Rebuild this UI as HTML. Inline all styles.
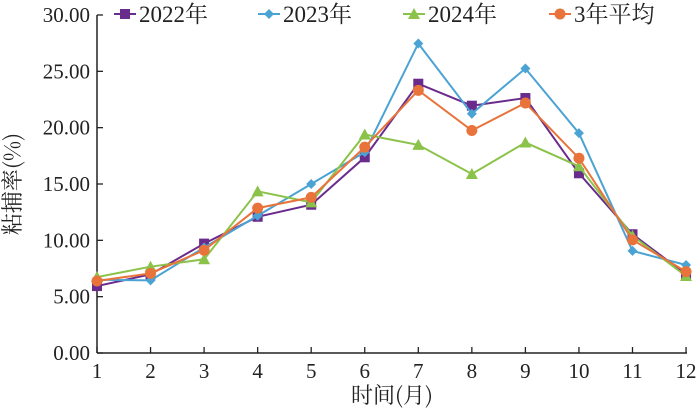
<!DOCTYPE html>
<html><head><meta charset="utf-8"><style>
html,body{margin:0;padding:0;background:#fff;}
svg{display:block;font-family:"Liberation Serif","Noto Serif CJK SC",serif;}
</style></head><body>
<svg width="700" height="411" viewBox="0 0 700 411">
<g stroke="#222" stroke-width="1.5" fill="none">
<line x1="97" y1="15" x2="97" y2="353"/>
<line x1="97" y1="353" x2="687" y2="353"/>
</g>
<g id="ticks" stroke="#222" stroke-width="1.3"></g>
<g id="labels" font-size="21" fill="#222"></g>
<text x="20" y="184" font-size="22" fill="#222" text-anchor="middle" transform="rotate(-90 20 184)" font-family="'Noto Serif CJK SC','Liberation Serif',serif">粘捕率(%)</text>
<text x="392" y="403" font-size="22" fill="#222" text-anchor="middle" font-family="'Noto Serif CJK SC','Liberation Serif',serif">时间(月)</text>
<g id="series"></g>
<g id="legend" font-size="23" fill="#222"></g>
</svg>
<script>
var ns="http://www.w3.org/2000/svg";
function X(i){return 97+(i)*53.55;}
function Y(v){return 353-v*11.267;}
function el(t,a,p,txt){var e=document.createElementNS(ns,t);for(var k in a)e.setAttribute(k,a[k]);if(txt!=null)e.textContent=txt;p.appendChild(e);return e;}
var tk=document.getElementById('ticks'),lb=document.getElementById('labels');
for(var v=0;v<=30;v+=5){var y=Y(v);el('line',{x1:97,y1:y,x2:103,y2:y},tk);el('text',{x:90,y:y+7,'text-anchor':'end'},lb,v.toFixed(2));}
for(var i=0;i<12;i++){var x=X(i);el('line',{x1:x,y1:353,x2:x,y2:347},tk);el('text',{x:x,y:378,'text-anchor':'middle'},lb,String(i+1));}
var S=[
{c:'#6a2c8c',m:'sq',d:[5.94,6.98,9.71,12.09,13.16,17.37,23.9,21.95,22.63,15.95,10.54,6.98]},
{c:'#4ba3d3',m:'di',d:[6.5,6.45,9.36,12.18,15.0,17.82,27.47,21.24,25.25,19.51,9.06,7.81]},
{c:'#8bc34a',m:'tr',d:[6.74,7.66,8.32,14.35,13.37,19.39,18.47,15.89,18.68,16.57,10.4,6.83]},
{c:'#e8743b',m:'ci',d:[6.39,7.07,9.12,12.86,13.81,18.27,23.31,19.75,22.19,17.29,10.04,7.22]}];
var sg=document.getElementById('series');
function mark(m,x,y,c,p){
 if(m=='sq')el('rect',{x:x-5,y:y-5,width:10,height:10,fill:c},p);
 else if(m=='di')el('polygon',{points:(x)+','+(y-5)+' '+(x+5)+','+y+' '+x+','+(y+5)+' '+(x-5)+','+y,fill:c},p);
 else if(m=='tr')el('polygon',{points:x+','+(y-6)+' '+(x+6)+','+(y+5)+' '+(x-6)+','+(y+5),fill:c},p);
 else el('circle',{cx:x,cy:y,r:5.5,fill:c},p);
}
S.forEach(function(s){var pts=s.d.map(function(v,i){return X(i)+','+Y(v);}).join(' ');
 el('polyline',{points:pts,fill:'none',stroke:s.c,'stroke-width':2},sg);
 s.d.forEach(function(v,i){mark(s.m,X(i),Y(v),s.c,sg);});});
var lg=document.getElementById('legend');
var L=[[114,'2022年'],[258,'2023年'],[403,'2024年'],[549,'3年平均']];
L.forEach(function(l,i){var s=S[i];el('line',{x1:l[0],y1:14,x2:l[0]+22,y2:14,stroke:s.c,'stroke-width':2},lg);mark(s.m,l[0]+11,14,s.c,lg);
 el('text',{x:l[0]+25,y:22,'font-family':"'Liberation Serif','Noto Serif CJK SC',serif"},lg,l[1]);});
</script>
</body></html>
